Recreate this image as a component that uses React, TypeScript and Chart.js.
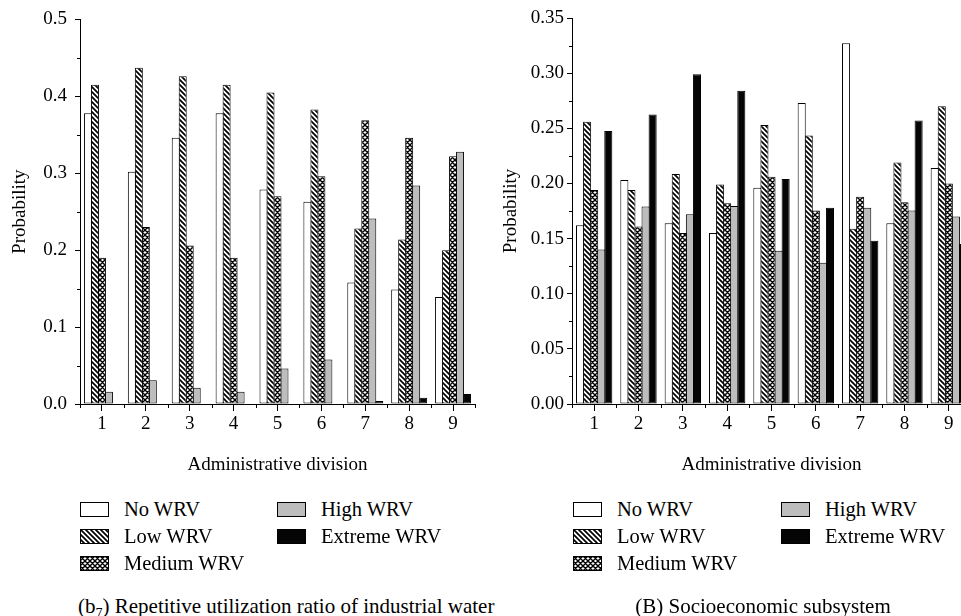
import React, { useEffect, useRef } from "react";
import { Chart, registerables } from "chart.js";

Chart.register(...registerables);

const FONT = "'Liberation Serif', 'Times New Roman', serif";

// ---- data ----
const categories = ["1", "2", "3", "4", "5", "6", "7", "8", "9"];
const seriesNames = ["No WRV", "Low WRV", "Medium WRV", "High WRV", "Extreme WRV"];

const leftNo = [0.378, 0.302, 0.346, 0.378, 0.279, 0.263, 0.158, 0.149, 0.139];
const leftLow = [0.415, 0.437, 0.426, 0.415, 0.405, 0.383, 0.228, 0.214, 0.2];
const leftMedium = [0.19, 0.23, 0.206, 0.19, 0.27, 0.296, 0.369, 0.346, 0.322];
const leftHigh = [0.016, 0.031, 0.021, 0.016, 0.046, 0.058, 0.241, 0.284, 0.328];
const leftExtreme = [0, 0, 0, 0, 0, 0, 0.004, 0.008, 0.013];

const rightNo = [0.162, 0.203, 0.164, 0.155, 0.196, 0.273, 0.327, 0.164, 0.214];
const rightLow = [0.256, 0.194, 0.2085, 0.199, 0.253, 0.2435, 0.159, 0.219, 0.27];
const rightMedium = [0.194, 0.161, 0.155, 0.182, 0.206, 0.1755, 0.188, 0.183, 0.2];
const rightHigh = [0.14, 0.179, 0.172, 0.1795, 0.139, 0.128, 0.178, 0.1755, 0.17];
const rightExtreme = [0.2475, 0.2625, 0.299, 0.284, 0.204, 0.178, 0.148, 0.257, 0.145];

const leftYMax = 0.5;
const leftYStep = 0.1;
const leftYDecimals = 1;
const rightYMax = 0.35;
const rightYStep = 0.05;
const rightYDecimals = 2;

const xTitle = "Administrative division";
const yTitle = "Probability";
const leftCaptionMain = "Repetitive utilization ratio of industrial water";
const rightCaption = "(B) Socioeconomic subsystem";

type Kind = "none" | "low" | "medium" | "high" | "extreme";
const kinds: Kind[] = ["none", "low", "medium", "high", "extreme"];

function makeFill(kind: Kind): string | CanvasPattern {
  if (kind === "none") return "#ffffff";
  if (kind === "high") return "#bdbdbd";
  if (kind === "extreme") return "#050505";
  const s = 5;
  const c = document.createElement("canvas");
  c.width = s;
  c.height = s;
  const g = c.getContext("2d")!;
  g.fillStyle = "#fff";
  g.fillRect(0, 0, s, s);
  g.strokeStyle = "#000";
  g.lineWidth = kind === "low" ? 1.7 : 1.4;
  g.beginPath();
  g.moveTo(-1, -1);
  g.lineTo(s + 1, s + 1);
  g.moveTo(-1, s - 1);
  g.lineTo(1, s + 1);
  g.moveTo(s - 1, -1);
  g.lineTo(s + 1, 1);
  if (kind === "medium") {
    g.moveTo(s + 1, -1);
    g.lineTo(-1, s + 1);
    g.moveTo(-1, 1);
    g.lineTo(1, -1);
    g.moveTo(s - 1, s + 1);
    g.lineTo(s + 1, s - 1);
  }
  g.stroke();
  return g.createPattern(c, "repeat")!;
}

const minorTicksPlugin = {
  id: "minorTicks",
  afterDraw(chart: any, _args: any, opts: any) {
    const { ctx, scales } = chart;
    const xs = scales.x;
    const ys = scales.y;
    ctx.save();
    ctx.strokeStyle = "#000";
    ctx.lineWidth = 1;
    const n = Math.round((ys.max - ys.min) / opts.yStep);
    for (let i = 1; i < n; i += 2) {
      const py = Math.round(ys.getPixelForValue(ys.min + i * opts.yStep)) + 0.5;
      ctx.beginPath();
      ctx.moveTo(xs.left - 3, py);
      ctx.lineTo(xs.left, py);
      ctx.stroke();
    }
    const m = xs.getLabels().length;
    for (let i = 0; i <= m; i++) {
      const px = Math.round(xs.getPixelForValue(i - 0.5)) + 0.5;
      ctx.beginPath();
      ctx.moveTo(px, ys.bottom);
      ctx.lineTo(px, ys.bottom + 4);
      ctx.stroke();
    }
    ctx.restore();
  },
};

function buildConfig(
  series: number[][],
  yMax: number,
  yStep: number,
  decimals: number,
  yWidth: number,
  padTop: number,
  padRight: number,
  yTickPad: number,
  yTitlePad: number
): any {
  const tickFont = { family: FONT, size: 19 };
  return {
    type: "bar",
    data: {
      labels: categories,
      datasets: series.map((vals, i) => ({
        label: seriesNames[i],
        data: vals,
        backgroundColor: makeFill(kinds[i]),
        borderColor: "#000",
        borderWidth: 1,
        borderSkipped: false,
        categoryPercentage: 0.797,
        barPercentage: 1.143,
      })),
    },
    plugins: [minorTicksPlugin],
    options: {
      responsive: false,
      animation: false,
      layout: { padding: { top: padTop, right: padRight, left: 0, bottom: 0 } },
      plugins: {
        legend: { display: false },
        tooltip: { enabled: false },
        minorTicks: { yStep: yStep / 2 },
      },
      scales: {
        x: {
          grid: {
            display: true,
            drawOnChartArea: false,
            drawTicks: true,
            tickLength: 7,
            offset: false,
            color: "#000",
            lineWidth: 1,
          },
          border: { display: true, color: "#000", width: 1 },
          ticks: { color: "#000", font: tickFont, padding: 2, maxRotation: 0, autoSkip: false },
          title: {
            display: true,
            text: xTitle,
            color: "#000",
            font: tickFont,
            padding: { top: 0, bottom: 4 },
          },
          afterFit: (s: any) => {
            s.height = 76;
          },
        },
        y: {
          min: 0,
          max: yMax,
          grid: {
            display: true,
            drawOnChartArea: false,
            drawTicks: true,
            tickLength: 5,
            color: "#000",
            lineWidth: 1,
          },
          border: { display: true, color: "#000", width: 1 },
          ticks: {
            stepSize: yStep,
            color: "#000",
            font: tickFont,
            padding: yTickPad,
            callback: (v: any) => Number(v).toFixed(decimals),
          },
          title: {
            display: true,
            text: yTitle,
            color: "#000",
            font: tickFont,
            padding: { top: yTitlePad, bottom: 0 },
          },
          afterFit: (s: any) => {
            s.width = yWidth;
          },
        },
      },
    },
  };
}

function BarChart(props: { left: number; width: number; height: number; make: () => any }) {
  const ref = useRef<HTMLCanvasElement>(null);
  useEffect(() => {
    const chart = new Chart(ref.current!, props.make());
    return () => chart.destroy();
  }, []);
  return (
    <canvas
      ref={ref}
      width={props.width}
      height={props.height}
      style={{ position: "absolute", left: props.left, top: 0, width: props.width, height: props.height }}
    />
  );
}

function Swatch(props: { kind: Kind }) {
  const ref = useRef<HTMLCanvasElement>(null);
  useEffect(() => {
    const c = ref.current!;
    const g = c.getContext("2d")!;
    g.clearRect(0, 0, 29, 15);
    g.fillStyle = makeFill(props.kind) as any;
    g.fillRect(0, 0, 29, 15);
    g.strokeStyle = "#000";
    g.lineWidth = 1;
    g.strokeRect(0.5, 0.5, 28, 14);
  }, []);
  return <canvas ref={ref} width={29} height={15} style={{ display: "block" }} />;
}

function Legend(props: { col1: number; col2: number }) {
  const rowsTop = [502, 529, 556];
  return (
    <>
      {seriesNames.map((name, i) => {
        const col = i < 3 ? props.col1 : props.col2;
        const top = rowsTop[i < 3 ? i : i - 3];
        return (
          <div
            key={name}
            style={{
              position: "absolute",
              left: col,
              top: top - 5,
              height: 25,
              display: "flex",
              alignItems: "center",
              fontSize: 20.5,
              whiteSpace: "nowrap",
            }}
          >
            <Swatch kind={kinds[i]} />
            <span style={{ marginLeft: 15 }}>{name}</span>
          </div>
        );
      })}
    </>
  );
}

export default function App() {
  return (
    <div
      style={{
        position: "absolute",
        left: 0,
        top: 0,
        width: 961,
        height: 616,
        overflow: "hidden",
        background: "#fff",
        fontFamily: FONT,
        color: "#000",
      }}
    >
      <BarChart
        left={0}
        width={480}
        height={480}
        make={() =>
          buildConfig(
            [leftNo, leftLow, leftMedium, leftHigh, leftExtreme],
            leftYMax,
            leftYStep,
            leftYDecimals,
            80,
            15,
            5,
            8,
            9
          )
        }
      />
      <BarChart
        left={490}
        width={486}
        height={480}
        make={() =>
          buildConfig(
            [rightNo, rightLow, rightMedium, rightHigh, rightExtreme],
            rightYMax,
            rightYStep,
            rightYDecimals,
            82,
            18,
            5,
            3,
            10
          )
        }
      />
      <Legend col1={80} col2={277} />
      <Legend col1={573} col2={781} />
      <div
        style={{
          position: "absolute",
          left: 78,
          top: 594,
          fontSize: 21,
          lineHeight: "24px",
          whiteSpace: "nowrap",
        }}
      >
        (b<sub style={{ fontSize: 14, lineHeight: 0 }}>7</sub>) {leftCaptionMain}
      </div>
      <div
        style={{
          position: "absolute",
          left: 763,
          top: 594,
          transform: "translateX(-50%)",
          fontSize: 21,
          lineHeight: "24px",
          whiteSpace: "nowrap",
        }}
      >
        {rightCaption}
      </div>
    </div>
  );
}
